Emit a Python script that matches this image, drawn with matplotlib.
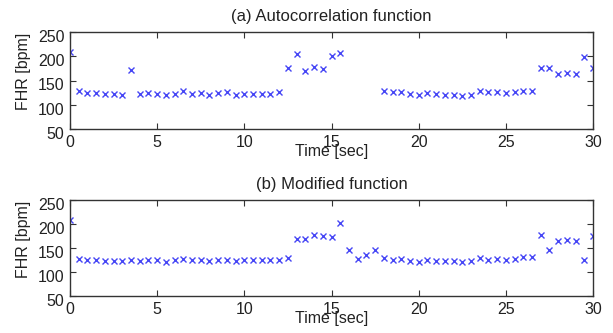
import matplotlib
matplotlib.use("Agg")
import matplotlib.pyplot as plt
import matplotlib.transforms as mtransforms
import numpy as np

plt.rcParams['font.family'] = ['Liberation Sans', 'DejaVu Sans']

# Panel (a): autocorrelation function (gap 16-17.5 s)
t_a = [0, 0.5, 1, 1.5, 2, 2.5, 3, 3.5, 4, 4.5, 5, 5.5, 6, 6.5, 7, 7.5, 8, 8.5, 9, 9.5,
       10, 10.5, 11, 11.5, 12, 12.5, 13, 13.5, 14, 14.5, 15, 15.5,
       18, 18.5, 19, 19.5, 20, 20.5, 21, 21.5, 22, 22.5, 23, 23.5, 24, 24.5, 25, 25.5,
       26, 26.5, 27, 27.5, 28, 28.5, 29, 29.5, 30]
fhr_a = [209, 129, 125, 125, 123, 123, 121, 172, 123, 125, 123, 121, 123, 129, 123, 125, 121, 125, 127, 121,
         123, 123, 123, 123, 127, 176, 205, 170, 178, 174, 201, 207,
         129, 127, 127, 123, 121, 125, 123, 121, 121, 119, 121, 129, 127, 127, 125, 127,
         129, 129, 176, 176, 164, 165, 164, 198, 176]

# Panel (b): modified function
t_b = [0, 0.5, 1, 1.5, 2, 2.5, 3, 3.5, 4, 4.5, 5, 5.5, 6, 6.5, 7, 7.5, 8, 8.5, 9, 9.5,
       10, 10.5, 11, 11.5, 12, 12.5, 13, 13.5, 14, 14.5, 15, 15.5, 16, 16.5, 17, 17.5,
       18, 18.5, 19, 19.5, 20, 20.5, 21, 21.5, 22, 22.5, 23, 23.5, 24, 24.5, 25, 25.5,
       26, 26.5, 27, 27.5, 28, 28.5, 29, 29.5, 30]
fhr_b = [208, 128, 125, 125, 123, 123, 123, 125, 123, 125, 125, 120, 125, 128, 125, 125, 123, 125, 125, 123,
         125, 125, 125, 125, 125, 129, 169, 169, 177, 174, 172, 203, 146, 128, 136, 145,
         129, 125, 127, 123, 121, 125, 123, 123, 123, 121, 123, 129, 125, 127, 125, 127,
         131, 131, 177, 146, 165, 167, 165, 125, 175]

titles = ['(a) Autocorrelation function', '(b) Modified function']
xlabel = 'Time [sec]'
ylabel = 'FHR [bpm]'
xticks = [0, 5, 10, 15, 20, 25, 30]
yticks = [50, 100, 150, 200, 250]

W, H = 613, 333
fig = plt.figure(figsize=(W / 100, H / 100), dpi=100)

boxes = [(70, 32, 593, 129), (70, 200, 593, 296)]
marker_color = '#4646f5'
text_color = '#222222'

for (l, t, r, b), tt, yy, title in zip(boxes, [t_a, t_b], [fhr_a, fhr_b], titles):
    ax = fig.add_axes([l / W, 1 - b / H, (r - l) / W, (b - t) / H])
    ax.plot(tt, yy, linestyle='none', marker='x', markersize=3.8, markeredgewidth=1.0,
            color=marker_color)
    ax.set_xlim(0, 30)
    ax.set_ylim(50, 250)
    ax.set_xticks(xticks)
    ax.set_yticks(yticks)
    ax.tick_params(direction='in', top=True, right=True, length=4, width=0.8,
                   labelsize=11.5, colors='#333333', labelcolor=text_color)
    ax.tick_params(axis='x', pad=4)
    ax.tick_params(axis='y', pad=4)
    # y tick labels sit slightly below their ticks in the reference
    off = mtransforms.ScaledTranslation(0, -4 / 100, fig.dpi_scale_trans)
    for lab in ax.get_yticklabels():
        lab.set_transform(lab.get_transform() + off)
    for s in ax.spines.values():
        s.set_linewidth(1.0)
        s.set_color('#333333')
    cx = (l + r) / 2 / W
    fig.text(cx, 1 - (t - 15) / H, title, fontsize=12, ha='center', va='center',
             color=text_color)
    fig.text(cx, 1 - (b + 23) / H, xlabel, fontsize=11.5, ha='center', va='center',
             color=text_color)
    fig.text(24 / W, 1 - (t + 39) / H, ylabel, fontsize=11.5, ha='center', va='center',
             rotation=90, color=text_color)

fig.savefig('out.png', dpi=100)
